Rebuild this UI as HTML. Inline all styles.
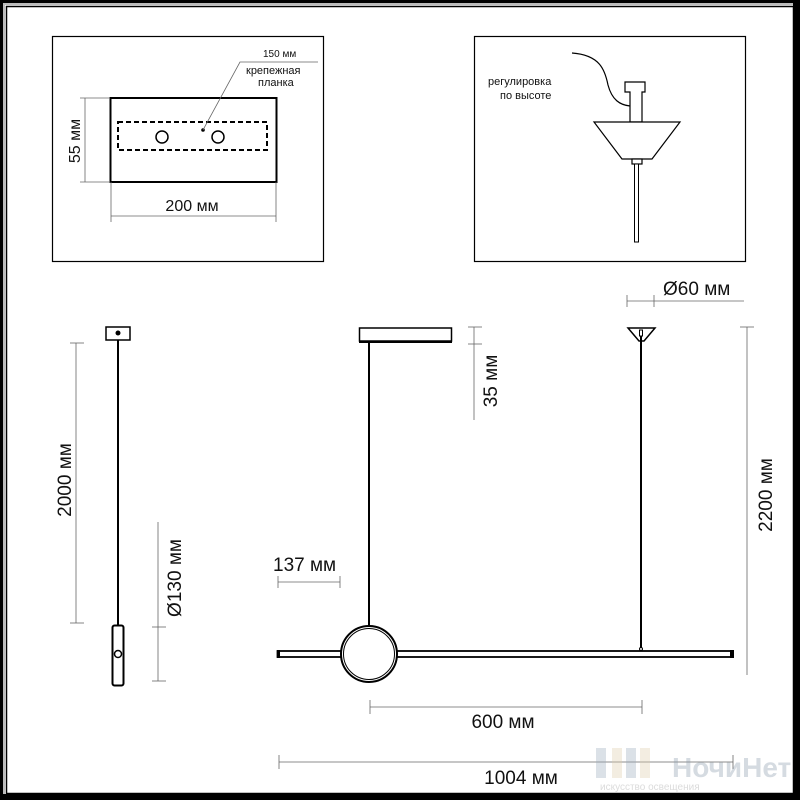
<!DOCTYPE html>
<html><head><meta charset="utf-8"><style>
html,body{margin:0;padding:0;background:#fff}
svg{display:block}
text{font-family:"Liberation Sans","DejaVu Sans",sans-serif;fill:#111}
</style></head><body>
<svg width="800" height="800" viewBox="0 0 800 800" xmlns="http://www.w3.org/2000/svg">
<rect x="1.5" y="1.5" width="797" height="797" fill="none" stroke="#000" stroke-width="3"/>
<rect x="4" y="4" width="792" height="792" fill="none" stroke="#bbb" stroke-width="2"/>
<rect x="6.5" y="6.5" width="787" height="787" fill="none" stroke="#000" stroke-width="1.5"/>
<line x1="0" y1="797" x2="800" y2="797" stroke="#000" stroke-width="6"/>
<line x1="796" y1="0" x2="796" y2="800" stroke="#000" stroke-width="6"/>

<rect x="52.5" y="36.5" width="271" height="225" fill="none" stroke="#000" stroke-width="1.2"/>
<rect x="110.5" y="98" width="166" height="84" fill="none" stroke="#000" stroke-width="2"/>
<rect x="118" y="122" width="149" height="28" fill="none" stroke="#000" stroke-width="2" stroke-dasharray="5,3"/>
<circle cx="162" cy="137" r="6" fill="none" stroke="#000" stroke-width="1.5"/>
<circle cx="218" cy="137" r="6" fill="none" stroke="#000" stroke-width="1.5"/>
<circle cx="203" cy="130" r="1.8" fill="#000"/>
<polyline points="203,130 240,62 318,62" fill="none" stroke="#666" stroke-width="0.8"/>
<text x="263" y="57" font-size="10">150 мм</text>
<text x="246" y="74" font-size="11">крепежная</text>
<text x="258" y="86" font-size="11">планка</text>
<line x1="85" y1="98" x2="85" y2="182" stroke="#666" stroke-width="0.8"/>
<line x1="80" y1="98" x2="110" y2="98" stroke="#666" stroke-width="0.8"/>
<line x1="80" y1="182" x2="110" y2="182" stroke="#666" stroke-width="0.8"/>
<text transform="translate(80,141) rotate(-90)" font-size="16" text-anchor="middle">55 мм</text>
<line x1="111" y1="216" x2="276" y2="216" stroke="#666" stroke-width="0.8"/>
<line x1="111" y1="182" x2="111" y2="222" stroke="#666" stroke-width="0.8"/>
<line x1="276" y1="182" x2="276" y2="222" stroke="#666" stroke-width="0.8"/>
<text x="192" y="211" font-size="16" text-anchor="middle">200 мм</text>

<rect x="474.5" y="36.5" width="271" height="225" fill="none" stroke="#000" stroke-width="1.2"/>
<path d="M572,53 C600,55 605,70 608,85 C612,100 620,105 630,106" fill="none" stroke="#000" stroke-width="1.2"/>
<text x="488" y="85" font-size="11">регулировка</text>
<text x="500" y="99" font-size="11">по высоте</text>
<path d="M625,82 H645 V92 H642 V122 H630 V92 H625 Z" fill="#fff" stroke="#000" stroke-width="1.2"/>
<path d="M594,122 H680 L652,159 H622 Z" fill="#fff" stroke="#000" stroke-width="1.2"/>
<rect x="632" y="159" width="10" height="5" fill="#fff" stroke="#000" stroke-width="1.2"/>
<rect x="634.5" y="164" width="4" height="78" fill="#fff" stroke="#000" stroke-width="1"/>

<rect x="106" y="327" width="24" height="13" fill="#fff" stroke="#000" stroke-width="1.5"/>
<circle cx="118" cy="333" r="2.5" fill="#000"/>
<line x1="118" y1="340" x2="118" y2="626" stroke="#000" stroke-width="2"/>
<rect x="112.5" y="625.5" width="11" height="60" rx="2" fill="#fff" stroke="#000" stroke-width="2"/>
<circle cx="118" cy="654" r="3.5" fill="#fff" stroke="#000" stroke-width="1.5"/>
<line x1="76" y1="343" x2="76" y2="623" stroke="#666" stroke-width="0.8"/>
<line x1="70" y1="343" x2="84" y2="343" stroke="#666" stroke-width="0.8"/>
<line x1="70" y1="623" x2="84" y2="623" stroke="#666" stroke-width="0.8"/>
<text transform="translate(71,480) rotate(-90)" font-size="19" text-anchor="middle">2000 мм</text>
<line x1="158" y1="522" x2="158" y2="681" stroke="#666" stroke-width="0.8"/>
<line x1="152" y1="627" x2="166" y2="627" stroke="#666" stroke-width="0.8"/>
<line x1="152" y1="681" x2="166" y2="681" stroke="#666" stroke-width="0.8"/>
<text transform="translate(181,578) rotate(-90)" font-size="19" text-anchor="middle">Ø130 мм</text>

<rect x="359.5" y="328" width="92" height="13" fill="#fff" stroke="#000" stroke-width="1.5"/>
<line x1="359" y1="342" x2="452" y2="342" stroke="#000" stroke-width="2"/>
<line x1="369" y1="342" x2="369" y2="626" stroke="#000" stroke-width="2"/>
<rect x="277.5" y="651" width="455" height="6" fill="#fff" stroke="#000" stroke-width="1.8"/>
<rect x="277" y="650" width="3" height="8" fill="#000"/>
<rect x="730" y="650" width="4" height="8" fill="#000"/>
<circle cx="369" cy="654" r="28" fill="#fff" stroke="#000" stroke-width="2"/>
<circle cx="369" cy="654" r="25.5" fill="none" stroke="#000" stroke-width="1"/>
<path d="M628,328 H655 L644,341 H639 Z" fill="#fff" stroke="#000" stroke-width="1.5"/>
<rect x="639.5" y="330" width="3" height="6" fill="#fff" stroke="#000" stroke-width="1"/>
<line x1="641" y1="336" x2="641" y2="650" stroke="#000" stroke-width="2"/>
<circle cx="641" cy="649" r="1.5" fill="#fff" stroke="#000" stroke-width="1"/>

<line x1="474" y1="327" x2="474" y2="420" stroke="#666" stroke-width="0.8"/>
<line x1="468" y1="327" x2="482" y2="327" stroke="#666" stroke-width="0.8"/>
<line x1="468" y1="344" x2="482" y2="344" stroke="#666" stroke-width="0.8"/>
<text transform="translate(497,381) rotate(-90)" font-size="19" text-anchor="middle">35 мм</text>

<line x1="627" y1="301" x2="744" y2="301" stroke="#666" stroke-width="0.8"/>
<line x1="627" y1="295" x2="627" y2="307" stroke="#666" stroke-width="0.8"/>
<line x1="654" y1="295" x2="654" y2="307" stroke="#666" stroke-width="0.8"/>
<text x="663" y="295" font-size="19">Ø60 мм</text>

<line x1="747" y1="327" x2="747" y2="675" stroke="#666" stroke-width="0.8"/>
<line x1="740" y1="327" x2="754" y2="327" stroke="#666" stroke-width="0.8"/>
<text transform="translate(772,495) rotate(-90)" font-size="19" text-anchor="middle">2200 мм</text>

<line x1="278" y1="582" x2="340" y2="582" stroke="#666" stroke-width="0.8"/>
<line x1="278" y1="576" x2="278" y2="588" stroke="#666" stroke-width="0.8"/>
<line x1="340" y1="576" x2="340" y2="588" stroke="#666" stroke-width="0.8"/>
<text x="273" y="571" font-size="19">137 мм</text>

<line x1="370" y1="707" x2="642" y2="707" stroke="#666" stroke-width="0.8"/>
<line x1="370" y1="700" x2="370" y2="714" stroke="#666" stroke-width="0.8"/>
<line x1="642" y1="700" x2="642" y2="714" stroke="#666" stroke-width="0.8"/>
<text x="503" y="728" font-size="19" text-anchor="middle">600 мм</text>

<line x1="279" y1="762" x2="733" y2="762" stroke="#666" stroke-width="0.8"/>
<line x1="279" y1="755" x2="279" y2="769" stroke="#666" stroke-width="0.8"/>
<line x1="733" y1="755" x2="733" y2="769" stroke="#666" stroke-width="0.8"/>
<text x="521" y="784" font-size="19" text-anchor="middle">1004 мм</text>

<g opacity="0.35">
<rect x="596" y="748" width="10" height="30" fill="#9ab"/>
<rect x="612" y="748" width="10" height="30" fill="#dca"/>
<rect x="626" y="748" width="10" height="30" fill="#9ab"/>
<rect x="640" y="748" width="10" height="30" fill="#dca"/>
<text x="672" y="777" font-size="28" font-weight="bold" style="fill:#89a">НочиНет</text>
<text x="600" y="790" font-size="10" style="fill:#999">искусство освещения</text>
</g>
</svg>
</body></html>
